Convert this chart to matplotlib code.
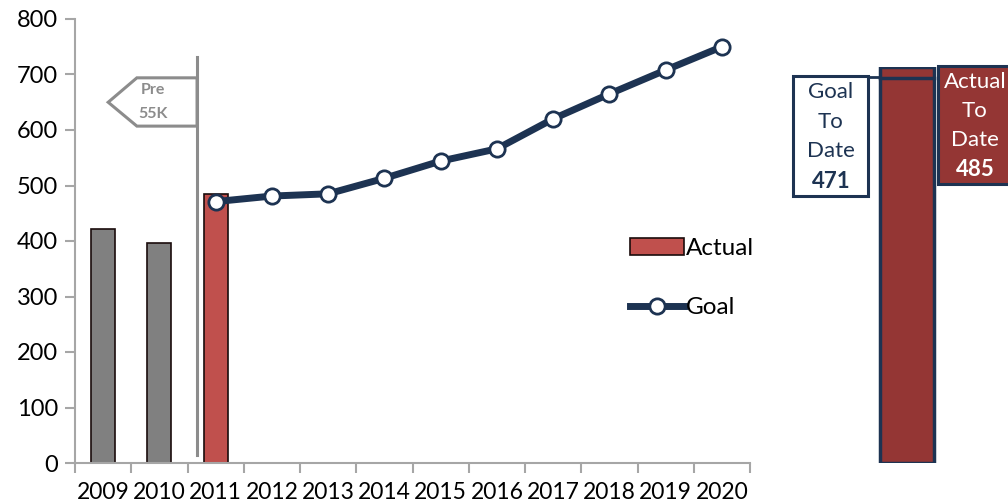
import matplotlib
matplotlib.use("Agg")
import matplotlib.pyplot as plt
from matplotlib.patches import Polygon, Rectangle
from matplotlib.lines import Line2D

plt.rcParams["font.family"] = ["Lato", "DejaVu Sans"]

YEARS = ["2009", "2010", "2011", "2012", "2013", "2014", "2015", "2016",
         "2017", "2018", "2019", "2020"]
PRE_VALUES = [421, 396]              # 2009, 2010 (pre 55K)
ACTUAL_VALUES = [485]                # 2011
GOAL_VALUES = [471, 481, 485, 513, 544, 566, 620, 665, 708, 750]  # 2011-2020
GOAL_TO_DATE = 471
ACTUAL_TO_DATE = 485

NAVY = "#1d3352"
GRAY = "#808080"
RED = "#c0504d"
DARKRED = "#943634"
AXGRAY = "#a6a6a6"
FLAGGRAY = "#8c8c8c"

W, H = 1008, 504
fig = plt.figure(figsize=(W / 100, H / 100), dpi=100)


def fx(px):
    return px / W


def fy(py):
    return 1 - py / H


ax = fig.add_axes([fx(75), fy(463), fx(750) - fx(75), fy(19) - fy(463)])
x = list(range(len(YEARS)))

ax.bar(x[:2], PRE_VALUES, width=0.43, color=GRAY, edgecolor="#1a0c0c", lw=1.2, zorder=2)
ax.bar(x[2:3], ACTUAL_VALUES, width=0.43, color=RED, edgecolor="#1a0c0c", lw=1.2,
       zorder=2, label="Actual")
ax.plot(x[2:], GOAL_VALUES, color=NAVY, lw=5, marker="o", ms=11,
        mfc="white", mec=NAVY, mew=2, zorder=3, label="Goal")

ax.set_xlim(-0.5, 11.5)
ax.set_ylim(0, 800)
ax.set_yticks(range(0, 801, 100))
ax.set_xticks([i - 0.5 for i in range(13)])
ax.set_xticklabels([])
ax.set_xticks(x, minor=True)
ax.set_xticklabels(YEARS, minor=True)
ax.tick_params(axis="x", which="minor", length=0, pad=14, labelsize=16.5)
ax.tick_params(axis="x", which="major", length=7, color=AXGRAY, width=1.5)
ax.tick_params(axis="y", length=7, color=AXGRAY, width=1.5, labelsize=17, pad=5)
for s in ["top", "right"]:
    ax.spines[s].set_visible(False)
for s in ["left", "bottom"]:
    ax.spines[s].set_color(AXGRAY)
    ax.spines[s].set_linewidth(1.5)

# Pre 55K divider and arrow flag
ax.plot([1.67, 1.67], [15, 732], color=FLAGGRAY, lw=2.2, zorder=1)
flag = Polygon([(1.67, 694), (0.60, 694), (0.09, 650), (0.60, 607), (1.67, 607)],
               closed=True, fill=False, edgecolor=FLAGGRAY, lw=2.2)
ax.add_patch(flag)
ax.text(0.88, 672, "Pre", color=FLAGGRAY, fontsize=11.5, fontweight="bold",
        ha="center", va="center")
ax.text(0.88, 628, "55K", color=FLAGGRAY, fontsize=11.5, fontweight="bold",
        ha="center", va="center")

# legend
handles = [Rectangle((0, 0), 1, 1, facecolor=RED, edgecolor="#1a0c0c", lw=1.2),
           Line2D([], [], color=NAVY, lw=5, marker="o", ms=11, mfc="white",
                  mec=NAVY, mew=2)]
ax.legend(handles, ["Actual", "Goal"], loc="upper left",
          bbox_to_anchor=(0.79, 0.555), frameon=False, fontsize=17.5,
          handlelength=2.2, handletextpad=0.1, labelspacing=1.55)

# to-date bar on the right
ax2 = fig.add_axes([fx(868), fy(463), fx(946) - fx(868), fy(67) - fy(463)])
ax2.bar([0], [ACTUAL_TO_DATE], width=0.68, color=DARKRED, edgecolor=NAVY, lw=2.5)
ax2.set_xlim(-0.5, 0.5)
ax2.set_ylim(0, ACTUAL_TO_DATE)
ax2.axis("off")
ax2.plot([-0.34, 0.34], [GOAL_TO_DATE, GOAL_TO_DATE], color=NAVY, lw=2.5, clip_on=False)

fig.add_artist(Rectangle((fx(793), fy(196)), fx(868) - fx(793), fy(76) - fy(196),
                         transform=fig.transFigure, facecolor="white",
                         edgecolor=NAVY, lw=2.2))
fig.add_artist(Line2D([fx(868), fx(880)], [fy(76.5), fy(76.5)],
                      transform=fig.transFigure, color=NAVY, lw=2))
fig.add_artist(Rectangle((fx(938), fy(184)), fx(1012) - fx(938), fy(66) - fy(184),
                         transform=fig.transFigure, facecolor=DARKRED,
                         edgecolor=NAVY, lw=2.2))

for i, t in enumerate(["Goal", "To", "Date"]):
    fig.text(fx(831), fy(92 + 29.5 * i), t, color=NAVY, fontsize=16,
             ha="center", va="center")
fig.text(fx(831), fy(181), str(GOAL_TO_DATE), color=NAVY, fontsize=16,
         fontweight="bold", ha="center", va="center")
for i, t in enumerate(["Actual", "To", "Date"]):
    fig.text(fx(975), fy(82 + 29 * i), t, color="white", fontsize=16,
             ha="center", va="center")
fig.text(fx(975), fy(170), str(ACTUAL_TO_DATE), color="white", fontsize=16,
         fontweight="bold", ha="center", va="center")

fig.savefig("out.png", dpi=100)
